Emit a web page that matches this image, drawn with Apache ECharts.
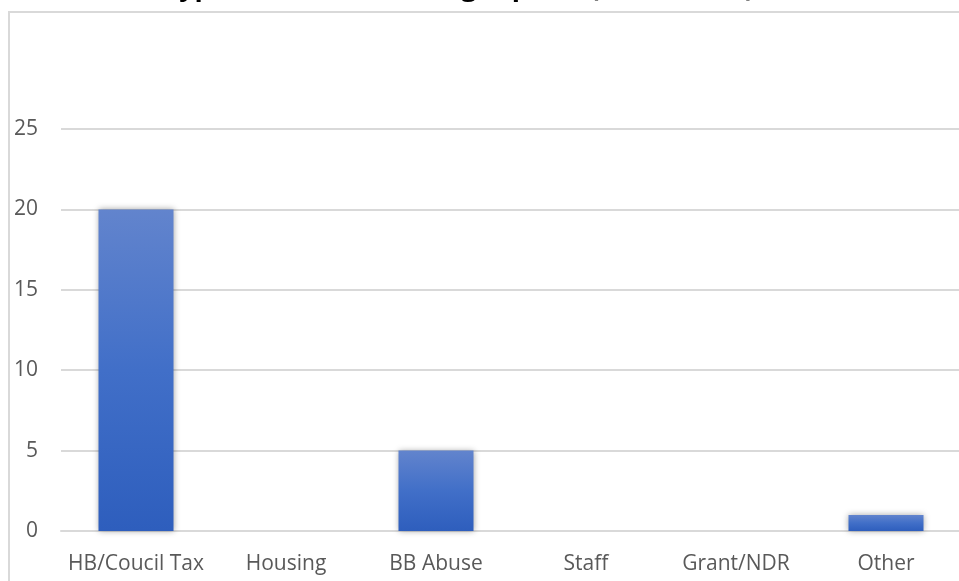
<!DOCTYPE html>
<html>
<head>
<meta charset="utf-8">
<script src="https://cdn.jsdelivr.net/npm/echarts@6/dist/echarts.min.js"></script>
<style>
  html, body { margin: 0; padding: 0; background: #fff; overflow: hidden; }
  #main { width: 959px; height: 581px; }
</style>
</head>
<body>
<div id="main"></div>
<script>
// data
var categories = ["HB/Coucil Tax", "Housing", "BB Abuse", "Staff", "Grant/NDR", "Other"];
var counts = [20, 0, 5, 0, 0, 1];
var titleText = "Type of Whistleblowing reports (2020 - 2021)";

var myChart = echarts.init(document.getElementById("main"));
var option;

option = {
  animation: false,
  title: {
    text: titleText,
    left: 454,
    top: -30,
    textAlign: "center",
    textStyle: {
      fontFamily: "Open Sans",
      fontWeight: "bold",
      fontSize: 27,
      color: "#000",
    },
  },
  graphic: [
    {
      type: "rect",
      shape: { x: 9, y: 12, width: 1000, height: 600 },
      style: { fill: null, stroke: "#d9d9d9", lineWidth: 2 },
      silent: true,
    },
  ],
  grid: {
    left: 61,
    width: 900,
    top: 48.6,
    bottom: 50,
    containLabel: false,
    outerBoundsMode: "none",
  },
  xAxis: {
    type: "category",
    data: categories,
    axisLine: { lineStyle: { color: "#d9d9d9", width: 2 } },
    axisTick: { show: false },
    axisLabel: {
      interval: 0,
      color: "#595959",
      fontFamily: "Open Sans",
      fontSize: 21,
      margin: 23,
    },
  },
  yAxis: {
    type: "value",
    min: 0,
    max: 30,
    interval: 5,
    axisLine: { show: false },
    axisTick: { show: false },
    axisLabel: {
      color: "#595959",
      fontFamily: "Open Sans",
      fontSize: 21,
      margin: 23,
      showMaxLabel: false,
    },
    splitLine: {
      showMaxLine: false,
      lineStyle: { color: "#d9d9d9", width: 2 },
    },
  },
  series: [
    {
      type: "bar",
      data: counts,
      barWidth: 75,
      itemStyle: {
        color: new echarts.graphic.LinearGradient(0, 0, 0, 1, [
          { offset: 0, color: "#6284cd" },
          { offset: 0.5, color: "#416fc8" },
          { offset: 1, color: "#2e5ebd" },
        ]),
        shadowBlur: 6,
        shadowColor: "rgba(0,0,0,0.35)",
      },
    },
  ],
};

option && myChart.setOption(option);
</script>
</body>
</html>
